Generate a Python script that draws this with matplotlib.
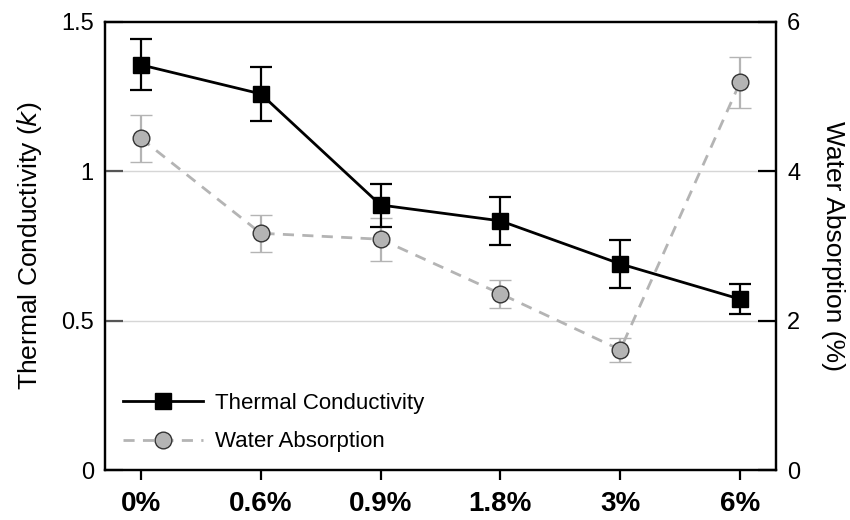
import numpy as np
import matplotlib.pyplot as plt
from matplotlib.lines import Line2D

plt.rcParams['font.family'] = ['Liberation Sans', 'DejaVu Sans']

# values
categories = ["0%", "0.6%", "0.9%", "1.8%", "3%", "6%"]
thermal = [1.356, 1.259, 0.887, 0.834, 0.690, 0.572]
thermal_err = [0.085, 0.09, 0.072, 0.08, 0.08, 0.05]
water = [4.44, 3.17, 3.09, 2.36, 1.61, 5.19]
water_err = [0.31, 0.25, 0.29, 0.19, 0.16, 0.34]

x = np.arange(len(categories))

fig = plt.figure(figsize=(8.5, 5.2), dpi=100)
ax = fig.add_axes([0.1235, 0.096, 0.7895, 0.862])
ax2 = ax.twinx()

# draw primary axis above the twin
ax.set_zorder(ax2.get_zorder() + 1)
ax.patch.set_visible(False)

for a in (ax, ax2):
    for s in a.spines.values():
        s.set_linewidth(1.6)
        s.set_color("black")

# grid lines
for gy in (0.5, 1.0):
    ax2.axhline(gy * 4, color="#d6d6d6", lw=1.0, zorder=0)

gray = "#b4b4b4"
wa_style = dict(color=gray, lw=2, ls=(0, (4, 3)), marker="o", markersize=12,
                markerfacecolor=gray, markeredgecolor="#333333", markeredgewidth=1)
tc_style = dict(color="black", lw=2, marker="s", markersize=11)

# water absorption (right axis)
ax2.errorbar(x, water, yerr=water_err, ecolor=gray, elinewidth=1.6,
             capsize=8, capthick=1.6, **wa_style)

# thermal conductivity (left axis)
ax.errorbar(x, thermal, yerr=thermal_err, ecolor="black", elinewidth=1.6,
            capsize=8, capthick=1.6, **tc_style)

ax.set_xlim(-0.3, 5.3)
ax.set_ylim(0, 1.5)
ax2.set_ylim(0, 6)

ax.set_yticks([0, 0.5, 1, 1.5])
ax.set_yticklabels(["0", "0.5", "1", "1.5"])
ax2.set_yticks([0, 2, 4, 6])
ax2.set_yticklabels(["0", "2", "4", "6"])

ax.tick_params(axis="y", direction="in", length=13, width=1.6, color="#555555",
               labelsize=17, pad=8)
ax2.tick_params(axis="y", direction="in", length=13, width=1.6, color="black",
                labelsize=17, pad=8)

ax.set_xticks(x)
ax.set_xticklabels(categories, fontsize=20, fontweight="bold")
ax.tick_params(axis="x", direction="out", length=7, width=1.6, pad=8)

ax.set_ylabel("Thermal Conductivity ($\\it{k}$)", fontsize=19, labelpad=12)
ax2.set_ylabel("Water Absorption (%)", fontsize=19, rotation=270, labelpad=32)

handles = [Line2D([], [], **tc_style), Line2D([], [], **wa_style)]
ax.legend(handles, ["Thermal Conductivity", "Water Absorption"], loc="lower left",
          bbox_to_anchor=(0.0, 0.0), frameon=False, fontsize=16,
          handlelength=3.6, handletextpad=0.55, labelspacing=0.8, borderaxespad=0.4)

fig.savefig("out.png", dpi=100)
